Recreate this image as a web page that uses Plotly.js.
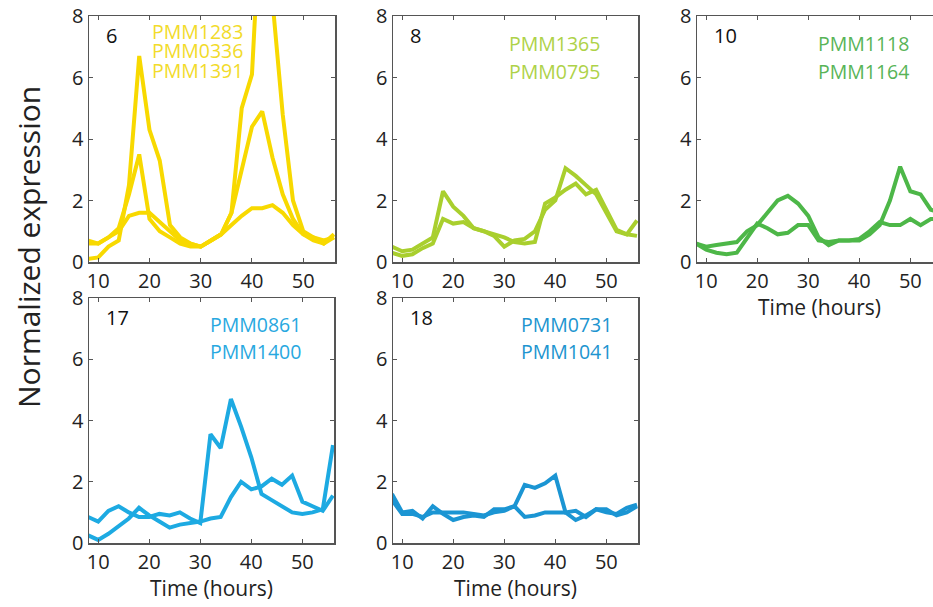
<!DOCTYPE html>
<html>
<head>
<meta charset="utf-8">
<script src="https://cdn.plot.ly/plotly-3.0.1.min.js"></script>
<style>html,body{margin:0;padding:0;overflow:hidden;background:#fff;}</style>
</head>
<body>
<div id="chart"></div>
<script>
// Time points (hours)
const hours = [8,10,12,14,16,18,20,22,24,26,28,30,32,34,36,38,40,42,44,46,48,50,52,54,56];

// Cluster 6 (yellow)
const c6_PMM1283 = [0.1,0.15,0.5,0.7,2.5,6.7,4.3,3.3,1.2,0.8,0.6,0.5,0.7,0.9,1.6,5.0,6.1,12.5,8.5,4.8,2.0,1.0,0.8,0.6,0.8];
const c6_PMM0336 = [0.7,0.6,0.8,1.1,2.2,3.5,1.4,1.0,0.8,0.6,0.5,0.5,0.7,0.9,1.6,3.0,4.4,4.9,3.4,2.2,1.4,0.9,0.7,0.6,0.9];
const c6_PMM1391 = [0.6,0.6,0.8,1.0,1.5,1.6,1.6,1.3,1.0,0.7,0.6,0.5,0.7,0.9,1.2,1.5,1.75,1.75,1.85,1.6,1.2,0.9,0.8,0.7,0.8];

// Cluster 8 (yellow-green)
const c8_PMM1365 = [0.5,0.35,0.4,0.6,0.8,2.3,1.8,1.5,1.1,1.0,0.85,0.5,0.7,0.75,1.0,1.7,2.0,3.05,2.8,2.5,2.2,1.6,1.0,0.9,1.35];
const c8_PMM0795 = [0.3,0.2,0.25,0.45,0.6,1.4,1.25,1.3,1.1,1.0,0.9,0.8,0.65,0.6,0.65,1.9,2.1,2.35,2.55,2.2,2.35,1.7,1.05,0.9,0.85];

// Cluster 10 (green)
const c10_PMM1118 = [0.6,0.5,0.55,0.6,0.65,1.0,1.2,1.6,2.0,2.15,1.9,1.5,0.8,0.55,0.7,0.7,0.7,0.9,1.2,2.0,3.1,2.3,2.2,1.7,1.6];
const c10_PMM1164 = [0.6,0.4,0.3,0.25,0.3,0.8,1.25,1.1,0.9,0.95,1.2,1.2,0.7,0.65,0.7,0.7,0.75,1.0,1.3,1.2,1.2,1.4,1.2,1.4,1.4];

// Cluster 17 (light blue)
const c17_PMM0861 = [0.85,0.7,1.05,1.2,1.0,0.85,0.85,0.95,0.9,1.0,0.8,0.65,3.55,3.1,4.7,3.8,2.8,1.6,1.4,1.2,1.0,0.95,1.0,1.1,3.2];
const c17_PMM1400 = [0.25,0.1,0.3,0.55,0.8,1.15,0.9,0.7,0.5,0.6,0.65,0.7,0.8,0.85,1.5,2.0,1.75,1.85,2.1,1.9,2.2,1.35,1.2,1.05,1.55];

// Cluster 18 (blue)
const c18_PMM0731 = [1.6,1.0,1.05,0.8,1.2,0.95,0.75,0.85,0.9,0.85,1.1,1.1,1.2,1.9,1.8,1.95,2.2,1.0,1.05,0.85,1.1,1.0,0.95,1.15,1.25];
const c18_PMM1041 = [1.4,0.95,0.95,0.85,1.0,1.0,1.0,1.0,0.95,0.9,1.0,1.05,1.2,0.85,0.9,1.0,1.0,1.0,0.75,0.9,1.1,1.1,0.9,1.0,1.2];

const clusterIds = ['6','8','10','17','18'];
const geneNames = [['PMM1283','PMM0336','PMM1391'],['PMM1365','PMM0795'],['PMM1118','PMM1164'],['PMM0861','PMM1400'],['PMM0731','PMM1041']];
const seriesData = [[c6_PMM1283,c6_PMM0336,c6_PMM1391],[c8_PMM1365,c8_PMM0795],[c10_PMM1118,c10_PMM1164],[c17_PMM0861,c17_PMM1400],[c18_PMM0731,c18_PMM1041]];
const lineColors = ['#F8D900','#A9CF2E','#4DB748','#1DAAE2','#1B95D3'];
const textColors = ['#F2DB2A','#AED248','#58B457','#28A8DF','#2094CF'];

const W = 945, H = 607;
// panel pixel boxes [left, right, top, bottom]
const boxes = [[89,335,16,262],[393,638,16,262],[697,942,16,262],[89,334,298,543],[393,638,298,543]];
const FONT = 'Open Sans, sans-serif';

const traces = [];
const layout = {
  width: W, height: H,
  margin: {l:0,r:0,t:0,b:0},
  paper_bgcolor:'#fff', plot_bgcolor:'#fff',
  showlegend:false,
  font:{family:FONT, color:'#222'},
  annotations: []
};

boxes.forEach((b,i)=>{
  const ax = i===0?'':String(i+1);
  const xa = 'xaxis'+ax, ya = 'yaxis'+ax;
  layout[xa] = {
    domain:[b[0]/W, b[1]/W], anchor:'y'+ax, range:[8.2,56.2],
    tickvals:[10,20,30,40,50], ticks:'inside', ticklen:4, tickcolor:'#555',
    showline:true, linecolor:'#555', linewidth:1.5, mirror:'ticks',
    showgrid:false, zeroline:false,
    tickfont:{family:FONT,size:20,color:'#222'}
  };
  layout[ya] = {
    domain:[1-b[3]/H, 1-b[2]/H], anchor:'x'+ax, range:[0,8],
    tickvals:[0,2,4,6,8], ticks:'inside', ticklen:4, tickcolor:'#555',
    showline:true, linecolor:'#555', linewidth:1.5, mirror:'ticks',
    showgrid:false, zeroline:false,
    tickfont:{family:FONT,size:20,color:'#222'}
  };
  if (i>=2) {
    layout[xa].title = {text:'Time (hours)', font:{family:FONT,size:21,color:'#222'}, standoff:6};
  }
  seriesData[i].forEach(s=>{
    traces.push({x:hours, y:s, xaxis:'x'+ax, yaxis:'y'+ax, type:'scatter', mode:'lines',
      line:{color:lineColors[i], width:4}, cliponaxis:true, hoverinfo:'skip'});
  });
  // cluster number
  layout.annotations.push({xref:'x'+ax+' domain', yref:'y'+ax+' domain', x:0.06, y:0.92,
    xanchor:'left', yanchor:'middle', showarrow:false, text:clusterIds[i],
    font:{family:FONT,size:20,color:'#111'}});
  // gene names
  const names = geneNames[i];
  const gap = names.length===3 ? 19.5 : 27;
  const cx = [0.44,0.66,0.68,0.68,0.71][i];
  const topY = i===0 ? 31 : (i<3 ? 44 : 324);
  names.forEach((n,k)=>{
    const py = topY + k*gap;
    layout.annotations.push({xref:'x'+ax+' domain', yref:'paper', x:cx, y:1-py/H,
      xanchor:'center', yanchor:'middle', showarrow:false, text:n,
      font:{family:FONT,size:19.5,color:textColors[i]}});
  });
});

layout.annotations.push({xref:'paper', yref:'paper', x:29/W, y:1-247/H, textangle:-90,
  xanchor:'center', yanchor:'middle', showarrow:false, text:'Normalized expression',
  font:{family:FONT,size:30,color:'#222'}});

Plotly.newPlot('chart', traces, layout, {staticPlot:true});
</script>
</body>
</html>
